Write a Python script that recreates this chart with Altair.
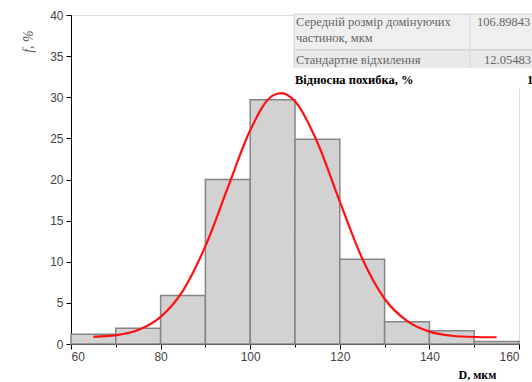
import altair as alt
import pandas as pd

# Histogram bins (particle size D, µm) and frequency f, %
bin_start = [60, 70, 80, 90, 100, 110, 120, 130, 140, 150]
bin_end = [70, 80, 90, 100, 110, 120, 130, 140, 150, 160]
freq = [1.2, 1.9, 5.9, 20.0, 29.7, 24.9, 10.3, 2.7, 1.6, 0.3]

# Fitted distribution curve
fit_x = [65, 70, 75, 80, 85, 90, 95, 100, 105, 107, 110, 115, 120, 125, 130, 135, 140, 145, 150, 155]
fit_y = [0.87, 1.07, 1.7, 3.3, 6.5, 11.9, 19.0, 26.0, 30.2, 30.5, 29.5, 24.5, 17.3, 10.4, 5.5, 2.8, 1.5, 1.0, 0.85, 0.82]

# Stats table
tbl_labels = ["Середній розмір домінуючих", "частинок, мкм", "Стандартне відхилення", "Відносна похибка, %"]
tbl_values = ["106.89843", "12.05483", "1"]

x_ticks = [60, 70, 80, 90, 100, 110, 120, 130, 140, 150, 160]
y_ticks = [0, 2.5, 5, 7.5, 10, 12.5, 15, 17.5, 20, 22.5, 25, 27.5, 30, 32.5, 35, 37.5, 40]

bars_df = pd.DataFrame({"start": bin_start, "end": bin_end, "f": freq})
fit_df = pd.DataFrame({"D": fit_x, "f": fit_y})

W, H = 448, 329

xscale = alt.Scale(domain=[60, 160], nice=False, zero=False)
yscale = alt.Scale(domain=[0, 40], nice=False)

xaxis = alt.Axis(
    values=x_ticks,
    labelExpr="datum.value % 20 == 0 ? datum.label : ''",
    tickSize={"condition": {"test": "datum.value % 20 == 0", "value": 5}, "value": 3},
    title="D, мкм",
    titleX=406, titleY=37, titleAlign="center", titleBaseline="bottom",
    titleFont="Liberation Serif", titleFontSize=12, titleFontWeight="bold", titleColor="#000",
    labelFont="Liberation Sans", labelFontSize=12, labelColor="#444", labelPadding=2,
    domainColor="#000", tickColor="#000", grid=False,
)
yaxis = alt.Axis(
    values=y_ticks,
    labelExpr="datum.value % 5 == 0 ? format(datum.value, 'd') : ''",
    tickSize={"condition": {"test": "datum.value % 5 == 0", "value": 5}, "value": 3},
    title="f, %",
    titleX=-43, titleY=26, titleAngle=-90, titleAlign="center", titleBaseline="middle",
    titleFont="Liberation Serif", titleFontSize=14, titleFontStyle="italic", titleFontWeight="normal",
    titleColor="#555",
    labelFont="Liberation Sans", labelFontSize=12, labelColor="#444", labelPadding=3,
    domainColor="#000", tickColor="#000", grid=False,
)

bars = alt.Chart(bars_df).mark_rect(fill="#d2d2d2", stroke="#858585", strokeWidth=1.5).encode(
    x=alt.X("start:Q", scale=xscale, axis=xaxis),
    x2="end:Q",
    y=alt.Y("f:Q", scale=yscale, axis=yaxis),
    y2=alt.datum(0),
)

curve = alt.Chart(fit_df).mark_line(color="#ff1010", strokeWidth=2.2, interpolate="monotone").encode(
    x=alt.X("D:Q", scale=xscale),
    y=alt.Y("f:Q", scale=yscale),
)

# table backgrounds
def box(x1, x2, y1, y2, fill, stroke="#cfcfcf"):
    return alt.Chart(pd.DataFrame({"a": [0]})).mark_rect(fill=fill, stroke=stroke, strokeWidth=1).encode(
        x=alt.value(x1), x2=alt.value(x2), y=alt.value(y1), y2=alt.value(y2)
    )

row1 = box(223, 480, -1, 35, "#efefef")
row2 = box(223, 480, 35, 53, "#e9e9e9")
row3 = box(223, 480, 53, 73, "#ffffff", stroke="#ffffff")
vline = alt.Chart(pd.DataFrame({"a": [0]})).mark_rule(color="#d8d8d8", strokeWidth=1).encode(
    x=alt.value(399), y=alt.value(-1), y2=alt.value(53)
)

def txt(s, x, y, bold=False, color="#666", size=12.5):
    return alt.Chart(pd.DataFrame({"a": [0]})).mark_text(
        align="left", baseline="middle", font="Liberation Serif", fontSize=size,
        fontWeight="bold" if bold else "normal", color=color,
    ).encode(x=alt.value(x), y=alt.value(y), text=alt.value(s))

texts = [
    txt(tbl_labels[0], 225, 7),
    txt(tbl_labels[1], 225, 23),
    txt(tbl_labels[2], 225, 45),
    txt(tbl_labels[3], 224, 65, bold=True, color="#000"),
    txt(tbl_values[0], 406, 7),
    txt(tbl_values[1], 413, 45),
    txt(tbl_values[2], 456, 65, bold=True, color="#000"),
]

chart = alt.layer(bars, curve, row1, row2, row3, vline, *texts).properties(
    width=W, height=H,
    autosize=alt.AutoSizeParams(type="none"),
    padding={"left": 71, "top": 15, "right": 13, "bottom": 38},
).configure_view(stroke=None).configure(background="#ffffff")

chart.save("out.html", embed_options={"renderer": "svg", "actions": False})
